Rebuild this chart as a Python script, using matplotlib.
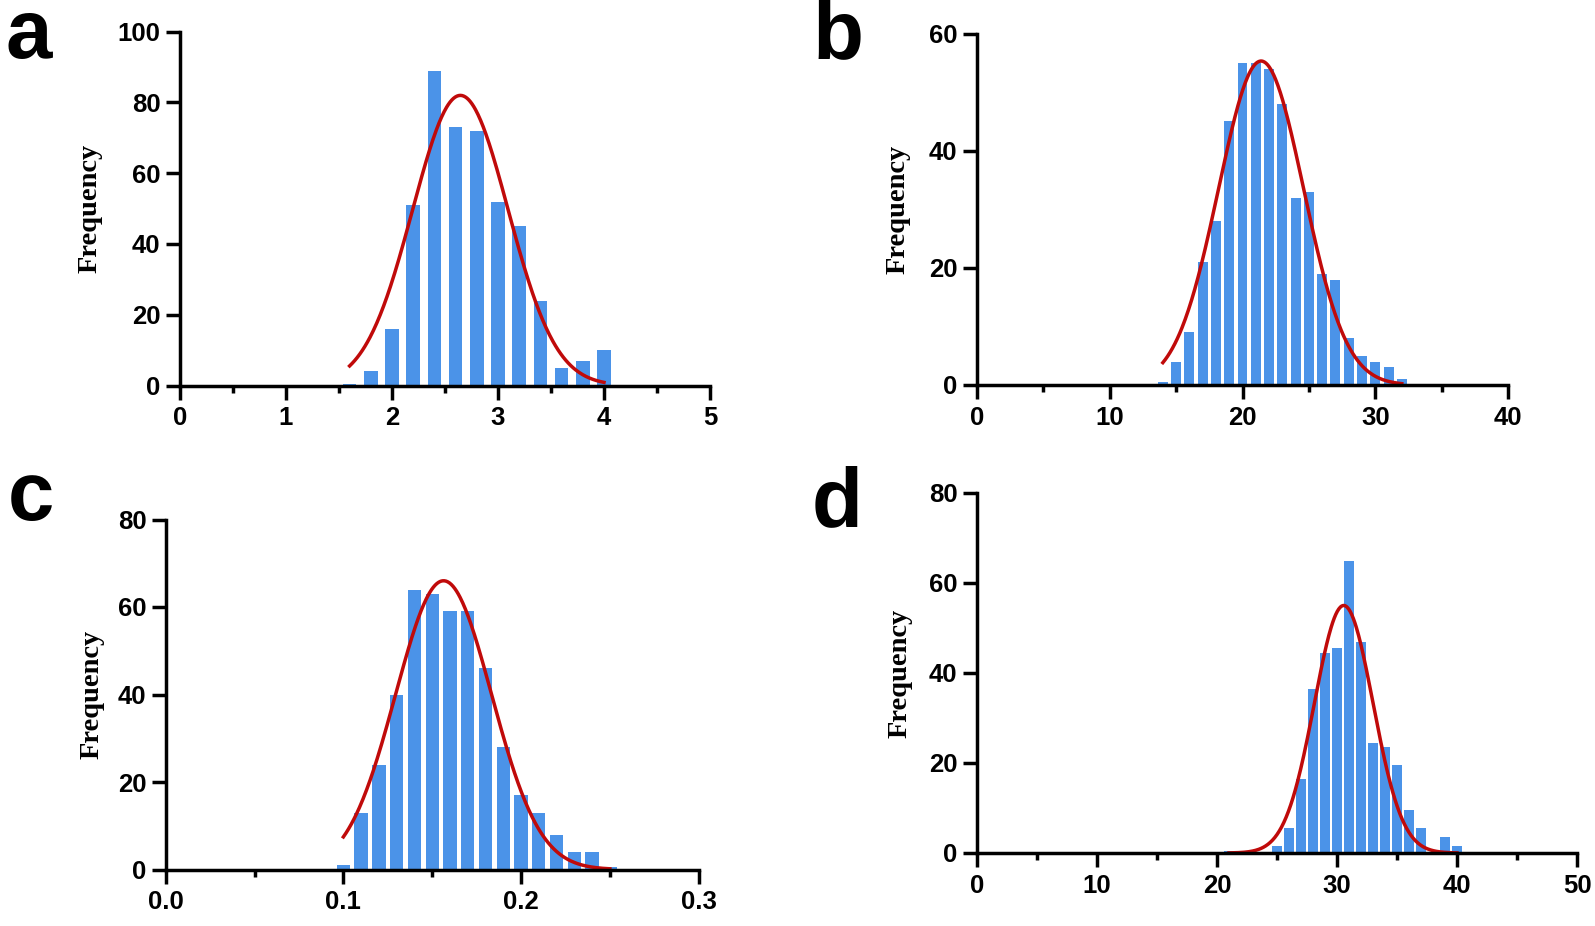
import numpy as np
import matplotlib
matplotlib.use("Agg")
import matplotlib.pyplot as plt
from matplotlib.ticker import MultipleLocator

# panel a
a_bins = [1.6, 1.8, 2.0, 2.2, 2.4, 2.6, 2.8, 3.0, 3.2, 3.4, 3.6, 3.8, 4.0]
a_freq = [0.5, 4, 16, 51, 89, 73, 72, 52, 45, 24, 5, 7, 10]
a_fit = (82, 2.645, 0.45)   # amplitude, mean, sd

# panel b
b_bins = [14, 15, 16, 17, 18, 19, 20, 21, 22, 23, 24, 25, 26, 27, 28, 29, 30, 31, 32]
b_freq = [0.5, 4, 9, 21, 28, 45, 55, 55, 54, 48, 32, 33, 19, 18, 8, 5, 4, 3, 1]
b_fit = (55.3, 21.4, 3.2)

# panel c
c_bins = [0.10, 0.11, 0.12, 0.13, 0.14, 0.15, 0.16, 0.17, 0.18, 0.19, 0.20,
          0.21, 0.22, 0.23, 0.24, 0.25]
c_freq = [1, 13, 24, 40, 64, 63, 59, 59, 46, 28, 17, 13, 8, 4, 4, 0.5]
c_fit = (66, 0.1564, 0.027)

# panel d
d_bins = [21, 22, 23, 24, 25, 26, 27, 28, 29, 30, 31, 32, 33, 34, 35, 36, 37, 38, 39, 40]
d_freq = [0.4, 0, 0, 0, 1.5, 5.5, 16.5, 36.5, 44.5, 45.5, 65, 47, 24.5, 23.5,
          19.5, 9.5, 5.5, 0, 3.5, 1.5]
d_fit = (55, 30.56, 2.44)

bar_color = "#4b93e8"
line_color = "#c00a0a"

W, H = 1595, 926
fig = plt.figure(figsize=(W / 100, H / 100), dpi=100)


def rect(left, right, bottom, top):
    return [left / W, 1 - bottom / H, (right - left) / W, (bottom - top) / H]


panels = [
    # letter, rect, bins, freq, fit, bin width, bar frac, xlim, xmajor, xminor, ylim, ystep, letter pos, label x
    ("a", rect(180, 710, 385.5, 31.7), a_bins, a_freq, a_fit, 0.2, 0.65, (0, 5), 1, 0.5, 100, 20, (6, 58), 90),
    ("b", rect(977, 1508, 385, 33.5), b_bins, b_freq, b_fit, 1, 0.75, (0, 40), 10, 5, 60, 20, (812, 58), 898),
    ("c", rect(165.7, 698.7, 869.5, 519.5), c_bins, c_freq, c_fit, 0.01, 0.75, (0, 0.3), 0.1, 0.05, 80, 20, (8, 520), 92),
    ("d", rect(977, 1577, 853, 493), d_bins, d_freq, d_fit, 1, 0.83, (0, 50), 10, 5, 80, 20, (812, 526), 900),
]

for letter, r, bins, freq, fit, bw, frac, xlim, xmaj, xmin, ytop, ystep, lpos, labx in panels:
    ax = fig.add_axes(r)
    ax.bar(bins, freq, width=bw * frac, color=bar_color, zorder=2)
    amp, mu, sd = fit
    xs = np.linspace(bins[0], bins[-1], 300)
    ax.plot(xs, amp * np.exp(-(xs - mu) ** 2 / (2 * sd ** 2)), color=line_color, lw=2.5, zorder=3)

    ax.set_xlim(*xlim)
    ax.set_ylim(0, ytop)
    ax.xaxis.set_major_locator(MultipleLocator(xmaj))
    ax.xaxis.set_minor_locator(MultipleLocator(xmin))
    ax.yaxis.set_major_locator(MultipleLocator(ystep))
    if letter == "c":
        ax.set_xticklabels(["%.1f" % v for v in ax.get_xticks()])

    for s in ["top", "right"]:
        ax.spines[s].set_visible(False)
    for s in ["left", "bottom"]:
        ax.spines[s].set_linewidth(2.5)
        ax.spines[s].set_zorder(4)
    ax.tick_params(which="major", length=10, width=2.5, pad=5)
    ax.tick_params(axis="x", which="minor", length=5, width=2.5)
    ax.tick_params(axis="y", pad=4)
    for t in ax.get_xticklabels() + ax.get_yticklabels():
        t.set_fontfamily("Liberation Sans")
        t.set_fontweight("bold")
        t.set_fontsize(18.5)

    fig.text(lpos[0] / W, 1 - lpos[1] / H, letter, fontsize=60, fontweight="bold",
             family="Liberation Sans", va="baseline", ha="left")
    fig.text(labx / W, r[1] + r[3] / 2, "Frequency", rotation=90, ha="center", va="center",
             family="Liberation Serif", fontweight="bold", fontsize=20.5)

fig.savefig("out.png", dpi=100)
